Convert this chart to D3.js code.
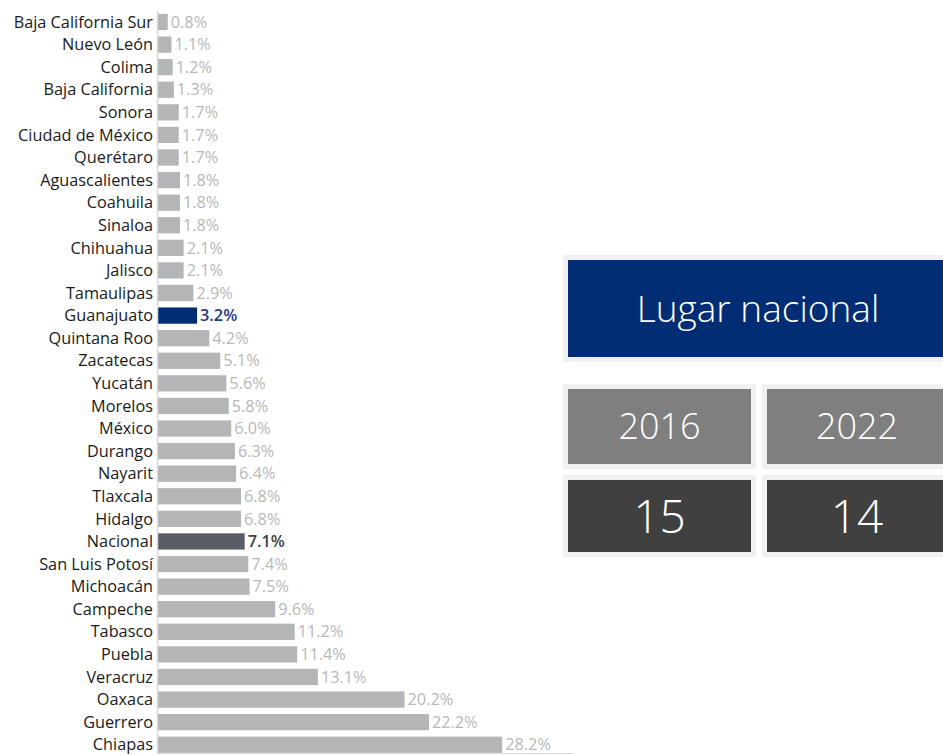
<!DOCTYPE html>
<html>
<head>
<meta charset="utf-8">
<script src="https://cdn.jsdelivr.net/npm/d3@7"></script>
<style>
  body { margin: 0; background: #fff; }
  svg { display: block; }
</style>
</head>
<body>
<svg id="chart"></svg>
<script>
const estados = ["Baja California Sur", "Nuevo León", "Colima", "Baja California", "Sonora",
  "Ciudad de México", "Querétaro", "Aguascalientes", "Coahuila", "Sinaloa", "Chihuahua",
  "Jalisco", "Tamaulipas", "Guanajuato", "Quintana Roo", "Zacatecas", "Yucatán", "Morelos",
  "México", "Durango", "Nayarit", "Tlaxcala", "Hidalgo", "Nacional", "San Luis Potosí",
  "Michoacán", "Campeche", "Tabasco", "Puebla", "Veracruz", "Oaxaca", "Guerrero", "Chiapas"];
const valores = [0.8, 1.1, 1.2, 1.3, 1.7, 1.7, 1.7, 1.8, 1.8, 1.8, 2.1, 2.1, 2.9, 3.2, 4.2,
  5.1, 5.6, 5.8, 6.0, 6.3, 6.4, 6.8, 6.8, 7.1, 7.4, 7.5, 9.6, 11.2, 11.4, 13.1, 20.2, 22.2, 28.2];
const titulo = "Lugar nacional";
const anios = ["2016", "2022"];
const lugares = ["15", "14"];

const W = 943, H = 755;
const svg = d3.select("#chart").attr("width", W).attr("height", H);

const data = estados.map((e, i) => ({ name: e, value: valores[i] }));

const x = d3.scaleLinear().domain([0, 34]).range([158, 573]);
const y = d3.scaleBand().domain(estados).range([10.7, 756]).paddingInner(0.28).paddingOuter(0.14);

function barColor(d) {
  if (d.name === "Guanajuato") return "#002d74";
  if (d.name === "Nacional") return "#595d65";
  return "#b3b5b7";
}
function valColor(d) {
  if (d.name === "Guanajuato") return "#1f3a84";
  if (d.name === "Nacional") return "#404040";
  return "#b8b8b8";
}

svg.selectAll("rect.bar")
  .data(data)
  .enter()
  .append("rect")
  .attr("class", "bar")
  .attr("x", x(0))
  .attr("y", (d) => y(d.name))
  .attr("width", (d) => x(d.value) - x(0))
  .attr("height", y.bandwidth())
  .attr("fill", barColor);

// axis lines
svg.append("line")
  .attr("x1", x(0) - 0.5).attr("x2", x(0) - 0.5)
  .attr("y1", 11).attr("y2", 754)
  .attr("stroke", "#d9d9d9").attr("stroke-width", 1.5);
svg.append("line")
  .attr("x1", x(0) - 1).attr("x2", x(34))
  .attr("y1", 753.5).attr("y2", 753.5)
  .attr("stroke", "#d9d9d9").attr("stroke-width", 1.2);

svg.selectAll("text.lbl")
  .data(data)
  .enter()
  .append("text")
  .attr("class", "lbl")
  .attr("x", 153)
  .attr("y", (d) => y(d.name) + y.bandwidth() / 2)
  .attr("dy", "0.35em")
  .attr("text-anchor", "end")
  .attr("font-family", "Open Sans, sans-serif")
  .attr("font-size", 16.3)
  .attr("fill", "#1a1a1a")
  .text((d) => d.name);

svg.selectAll("text.val")
  .data(data)
  .enter()
  .append("text")
  .attr("class", "val")
  .attr("x", (d) => x(d.value) + 3)
  .attr("y", (d) => y(d.name) + y.bandwidth() / 2)
  .attr("dy", "0.35em")
  .attr("font-family", "Open Sans, sans-serif")
  .attr("font-size", 16.3)
  .attr("font-weight", (d) => (d.name === "Guanajuato" || d.name === "Nacional") ? 600 : 400)
  .attr("fill", valColor)
  .text((d) => d3.format(".1f")(d.value) + "%");

// right panel
function box(x0, y0, w, h, fill, label, size) {
  svg.append("rect")
    .attr("x", x0 - 5).attr("y", y0 - 5)
    .attr("width", w + 10).attr("height", h + 10)
    .attr("fill", "#f1f1f1");
  svg.append("rect")
    .attr("x", x0).attr("y", y0)
    .attr("width", w).attr("height", h)
    .attr("fill", fill);
  svg.append("text")
    .attr("x", x0 + w / 2).attr("y", y0 + h / 2)
    .attr("dy", "0.36em")
    .attr("text-anchor", "middle")
    .attr("font-family", "Open Sans, sans-serif")
    .attr("font-weight", 300)
    .attr("font-size", size)
    .attr("fill", "#fff")
    .text(label);
}

box(568, 260, 380, 97, "#002d74", titulo, 37);
const cols = [[568, 183], [767, 180]];
anios.forEach((a, i) => box(cols[i][0], 389, cols[i][1], 75, "#7f7f7f", a, 36));
lugares.forEach((l, i) => box(cols[i][0], 480, cols[i][1], 72, "#404040", l, 46));
</script>
</body>
</html>
